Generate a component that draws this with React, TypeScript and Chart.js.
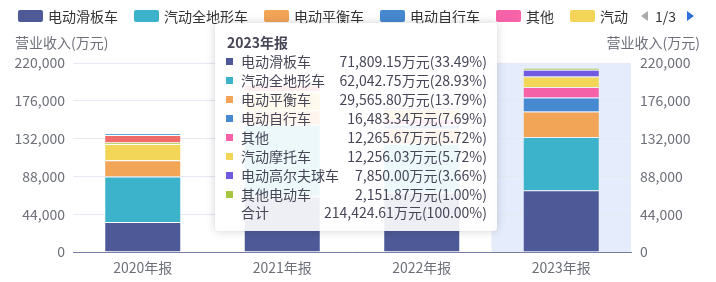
import React, { useEffect, useRef } from "react";
import { Chart, registerables } from "chart.js";

Chart.register(...registerables);

const FONT = "'Noto Sans CJK SC', 'Noto Sans', sans-serif";

const categories = ["2020年报", "2021年报", "2022年报", "2023年报"];
const seriesNames = [
  "电动滑板车",
  "汽动全地形车",
  "电动平衡车",
  "电动自行车",
  "其他",
  "汽动摩托车",
  "电动高尔夫球车",
  "其他电动车",
  "越野摩托车",
  "配件",
];
const seriesColors = [
  "#4e5a97",
  "#3db3cb",
  "#f2a457",
  "#4689d1",
  "#f562a8",
  "#f3d657",
  "#7159e0",
  "#a6c63e",
  "#f26b6b",
  "#62a6d6",
];

const scooter = [34800, 65000, 69000, 71809.15];
const atv = [53000, 83000, 57000, 62042.75];
const balance = [19100, 17000, 17500, 29565.8];
const ebike = [0, 0, 5000, 16483.34];
const other = [0, 0, 6000, 12265.67];
const motorcycle = [18700, 21000, 12000, 12256.03];
const golf = [0, 0, 2000, 7850.0];
const otherElectric = [1900, 1000, 1500, 2151.87];
const dirtBike = [8700, 8000, 0, 0];
const parts = [2300, 0, 0, 0];

const seriesValues = [scooter, atv, balance, ebike, other, motorcycle, golf, otherElectric, dirtBike, parts];

const yTicksMax = 220000;
const yTickStep = 44000;
const HOVER_INDEX = 3;
const legendPage = "1/3";
const axisTitle = "营业收入(万元)";

const fmt2 = (v: number) =>
  v.toLocaleString("en-US", { minimumFractionDigits: 2, maximumFractionDigits: 2 });

const highlightPlugin = {
  id: "hoverBand",
  beforeDraw(chart: any) {
    const x = chart.scales.x;
    const area = chart.chartArea;
    if (!x || !area) return;
    const w = (area.right - area.left) / categories.length;
    const cx = x.getPixelForValue(HOVER_INDEX);
    const ctx = chart.ctx;
    ctx.save();
    ctx.fillStyle = "#e5ecfc";
    ctx.fillRect(cx - w / 2, area.top, w, area.bottom - area.top);
    ctx.restore();
  },
};

export default function App() {
  const canvasRef = useRef<HTMLCanvasElement>(null);

  useEffect(() => {
    document.body.style.margin = "0";
    const canvas = canvasRef.current;
    if (!canvas) return;
    const chart = new Chart(canvas, {
      type: "bar",
      data: {
        labels: categories,
        datasets: seriesNames.map((name, i) => ({
          label: name,
          data: seriesValues[i],
          backgroundColor: seriesColors[i],
          borderColor: "rgba(255,255,255,0.22)",
          borderWidth: 1,
          categoryPercentage: 1,
          barPercentage: 0.552,
        })),
      },
      options: {
        animation: false,
        responsive: false,
        devicePixelRatio: 1,
        layout: { padding: { top: 63, left: 0, right: 0, bottom: 0 } },
        plugins: {
          legend: { display: false },
          tooltip: { enabled: false },
        },
        scales: {
          x: {
            stacked: true,
            grid: { display: false, drawTicks: false },
            border: { display: true, color: "#7a7da6", width: 1 },
            ticks: {
              color: "#6e7079",
              font: { family: FONT, size: 14 },
              padding: 7,
            },
            afterFit: (s: any) => {
              s.height = 30;
            },
          },
          y: {
            stacked: true,
            position: "left",
            min: 0,
            max: yTicksMax,
            grid: { color: "#e6e8f2", drawTicks: false },
            border: { display: false },
            ticks: {
              stepSize: yTickStep,
              color: "#6e7079",
              font: { family: FONT, size: 14 },
              padding: 8,
              callback: (v: any) => Number(v).toLocaleString("en-US"),
            },
            afterFit: (s: any) => {
              s.width = 73;
            },
          },
          y1: {
            position: "right",
            min: 0,
            max: yTicksMax,
            grid: { display: false, drawTicks: false },
            border: { display: false },
            ticks: {
              stepSize: yTickStep,
              color: "#6e7079",
              font: { family: FONT, size: 14 },
              padding: 9,
              callback: (v: any) => Number(v).toLocaleString("en-US"),
            },
            afterFit: (s: any) => {
              s.width = 85;
            },
          },
        },
      },
      plugins: [highlightPlugin],
    } as any);
    return () => chart.destroy();
  }, []);

  const rows = seriesNames
    .map((name, i) => ({ name, color: seriesColors[i], value: seriesValues[i][HOVER_INDEX] }))
    .filter((r) => r.value > 0);
  const total = rows.reduce((s, r) => s + r.value, 0);

  const textColor = "#464657";

  return (
    <div
      style={{
        position: "relative",
        width: 716,
        height: 282,
        overflow: "hidden",
        background: "#fff",
        fontFamily: FONT,
      }}
    >
      <canvas ref={canvasRef} width={716} height={282} style={{ position: "absolute", left: 0, top: 0 }} />

      {/* legend */}
      <div
        style={{
          position: "absolute",
          left: 18,
          top: 6,
          width: 610,
          height: 20,
          overflow: "hidden",
          whiteSpace: "nowrap",
          display: "flex",
          alignItems: "center",
          gap: 16,
        }}
      >
        {seriesNames.map((n, i) => (
          <div key={n} style={{ display: "flex", alignItems: "center", flex: "none" }}>
            <div style={{ width: 25, height: 12, borderRadius: 2, background: seriesColors[i], marginRight: 5 }} />
            <span style={{ fontSize: 14, color: "#333", lineHeight: "20px" }}>{n}</span>
          </div>
        ))}
      </div>
      {/* pager */}
      <div
        style={{
          position: "absolute",
          left: 641,
          top: 11,
          width: 0,
          height: 0,
          borderTop: "5px solid transparent",
          borderBottom: "5px solid transparent",
          borderRight: "7px solid #aaaaaa",
        }}
      />
      <div style={{ position: "absolute", left: 655, top: 6, fontSize: 14, lineHeight: "20px", color: "#333" }}>
        {legendPage}
      </div>
      <div
        style={{
          position: "absolute",
          left: 687,
          top: 11,
          width: 0,
          height: 0,
          borderTop: "5px solid transparent",
          borderBottom: "5px solid transparent",
          borderLeft: "7px solid #2f6fe0",
        }}
      />

      {/* axis titles */}
      <div style={{ position: "absolute", left: 15, top: 32, fontSize: 14, lineHeight: "20px", color: "#6e7079" }}>
        {axisTitle}
      </div>
      <div
        style={{
          position: "absolute",
          right: 16,
          top: 32,
          fontSize: 14,
          lineHeight: "20px",
          color: "#6e7079",
          textAlign: "right",
        }}
      >
        {axisTitle}
      </div>

      {/* tooltip */}
      <div
        style={{
          position: "absolute",
          left: 215,
          top: 23,
          width: 282,
          height: 208,
          background: "rgba(255,255,255,0.9)",
          borderRadius: 4,
          boxShadow: "0 0 10px rgba(0,0,0,0.18)",
          color: textColor,
        }}
      >
        <div
          style={{
            position: "absolute",
            left: 12,
            top: 8.7,
            fontSize: 14,
            lineHeight: "20px",
            fontWeight: 700,
          }}
        >
          {categories[HOVER_INDEX]}
        </div>
        {rows.map((r, i) => (
          <div
            key={r.name}
            style={{
              position: "absolute",
              left: 0,
              top: 29.2 + 18.9 * i,
              width: 282,
              height: 19,
              fontSize: 14,
              lineHeight: "19px",
            }}
          >
            <div style={{ position: "absolute", left: 11, top: 6, width: 7, height: 7, background: r.color }} />
            <span style={{ position: "absolute", left: 26 }}>{r.name}</span>
            <span style={{ position: "absolute", right: 10 }}>
              {fmt2(r.value)}万元({((r.value / total) * 100).toFixed(2)}%)
            </span>
          </div>
        ))}
        <div
          style={{
            position: "absolute",
            left: 0,
            top: 29.2 + 18.9 * rows.length,
            width: 282,
            height: 19,
            fontSize: 14,
            lineHeight: "19px",
          }}
        >
          <span style={{ position: "absolute", left: 26 }}>合计</span>
          <span style={{ position: "absolute", right: 10 }}>{fmt2(total)}万元(100.00%)</span>
        </div>
      </div>
    </div>
  );
}
